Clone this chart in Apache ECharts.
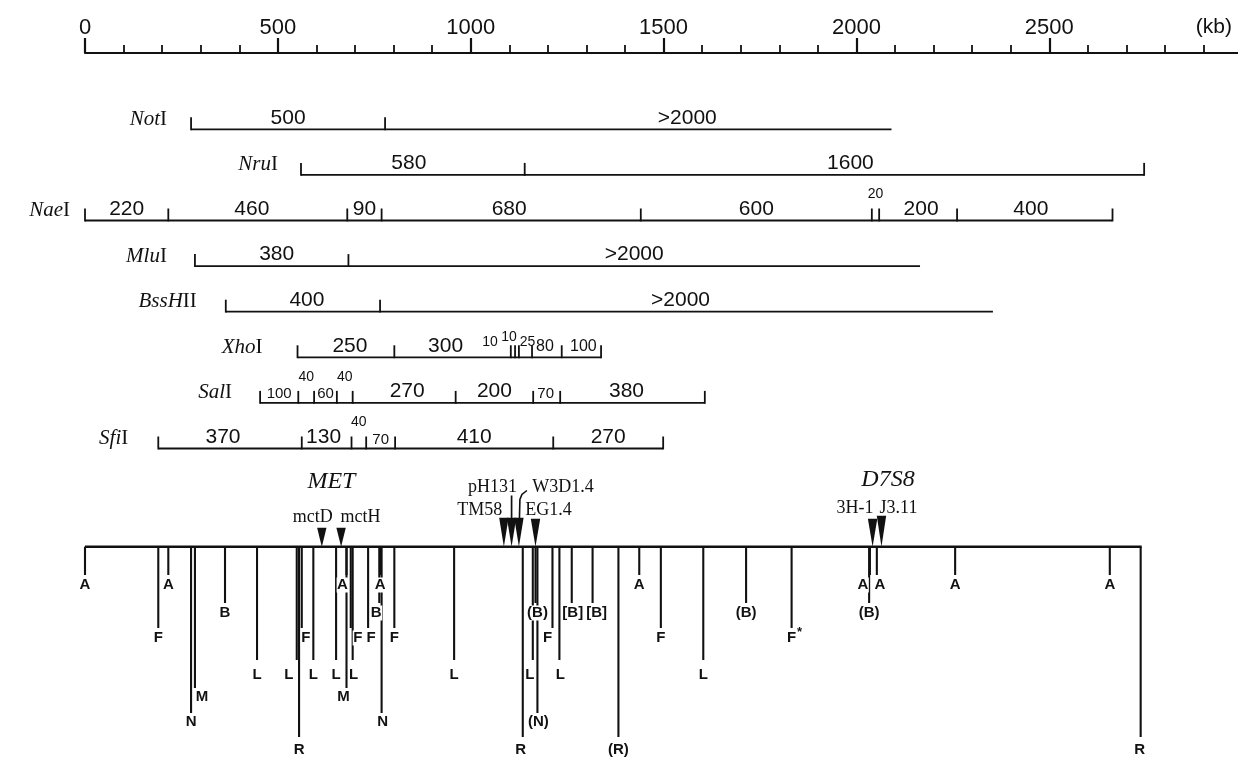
<!DOCTYPE html>
<html><head><meta charset="utf-8">
<script src="https://cdn.jsdelivr.net/npm/echarts@6/dist/echarts.min.js"></script>
<style>html,body{margin:0;padding:0;background:#fff}#c{width:1238px;height:757px}</style>
</head><body><div id="c"></div>
<script>
// ================= DATA (kb) =================
const kbTickLabels = [0, 500, 1000, 1500, 2000, 2500];
const axisUnit = '(kb)';
const axisUnitKb = 2927;

const enzymeNames  = ['Not', 'Nru', 'Nae', 'Mlu', 'BssH', 'Xho', 'Sal', 'Sfi'];
const enzymeSuffix = ['I', 'I', 'I', 'I', 'II', 'I', 'I', 'I'];
const enzymeOpenEnd = [true, false, false, true, true, false, false, false];

const notISites = [275, 778, 2091];
const notIFragments = ['500', '>2000'];
const nruISites = [560, 1140, 2746];
const nruIFragments = ['580', '1600'];
const naeISites = [0, 216, 680, 769, 1441, 2040, 2059, 2261, 2664];
const naeIFragments = ['220', '460', '90', '680', '600', '20', '200', '400'];
const mluISites = [285, 683, 2165];
const mluIFragments = ['380', '>2000'];
const bssHIISites = [365, 765, 2354];
const bssHIIFragments = ['400', '>2000'];
const xhoISites = [551, 802, 1104, 1115, 1125, 1159, 1236, 1338];
const xhoIFragments = ['250', '300', '10', '10', '25', '80', '100'];
const salISites = [454, 553, 594, 653, 694, 961, 1162, 1232, 1607];
const salIFragments = ['100', '40', '60', '40', '270', '200', '70', '380'];
const sfiISites = [190, 562, 691, 729, 804, 1214, 1499];
const sfiIFragments = ['370', '130', '40', '70', '410', '270'];

// composite map (sites below the line)
const mapLetters = ['A', 'B', 'F', 'L', 'M', 'N', 'R'];
const mapA = [0, 216, 678, 765, 1437, 2035, 2053, 2256, 2657];
const mapALabels = ['A', 'A', 'A', 'A', 'A', 'A', 'A', 'A', 'A'];
const mapB = [363, 763, 1168, 1262, 1316, 1714, 2033];
const mapBLabels = ['B', 'B', '(B)', '[B]', '[B]', '(B)', '(B)'];
const mapF = [190, 562, 689, 734, 802, 1212, 1493, 1832];
const mapFLabels = ['F', 'F', 'F', 'F', 'F', 'F', 'F', 'F*'];
const mapL = [446, 549, 592, 651, 694, 957, 1161, 1230, 1603];
const mapLLabels = ['L', 'L', 'L', 'L', 'L', 'L', 'L', 'L', 'L'];
const mapM = [285, 678];
const mapMLabels = ['M', 'M'];
const mapN = [275, 769, 1173];
const mapNLabels = ['N', 'N', '(N)'];
const mapR = [555, 1135, 1383, 2737];
const mapRLabels = ['R', 'R', '(R)', 'R'];

// probes / markers above the line
const markerNames = ['mctD', 'mctH', 'TM58', 'pH131', 'W3D1.4', 'EG1.4', '3H-1', 'J3.11'];
const markerKb    = [614, 664, 1086, 1106, 1125, 1168, 2042, 2065];
const locusNames   = ['MET', 'D7S8'];
const locusMembers = [[0, 1], [6, 7]];

// ================= LAYOUT / STYLE =================
const INK = '#111111';
const SANS = "'Liberation Sans', Arial, Helvetica, sans-serif";
const SERIF = "'Liberation Serif', 'Times New Roman', serif";
const L = {
  gridLeft: 85, gridTop: 53, pxPerKb: 0.3857, kbMax: 3000,
  rowY0: 129.3, rowStep: 45.6, tickH: 12, rowLine: 1.8,
  nameGap: [24, 23, 15, 28, 29, 35, 28, 30],
  mainY: 546.7,
  level: { A: [575, 585], B: [603, 613], F: [628, 638], L: [660, 675], M: [688, 697], N: [713, 722], R: [737, 750] },
  siteNudge: {
    A: [0, 0, -4, 0, 0, -7, 3, 0, 0],
    B: [0, -3, 2, 1, 4, 0, 0],
    F: [0, 4, 7, 3, 0, -5, 0, 0],
    L: [0, -8, 0, 0, 1, 0, -3, 1, 0],
    M: [7, -3],
    N: [0, 1, 1],
    R: [0, -2, 0, -1]
  },
  marker: [
    { dx: -9, ty: 517, h: 19 },
    { dx: 19.5, ty: 517, h: 19 },
    { dx: -24, ty: 510.5, h: 29 },
    { dx: -19, ty: 487.5, h: 29, stem: true },
    { dx: 44, ty: 487.5, h: 29, leader: true },
    { dx: 13, ty: 510.5, h: 28 },
    { dx: -17.7, ty: 508, h: 28 },
    { dx: 17, ty: 508, h: 31 }
  ],
  locus: [{ dx: 0, ty: 481.7 }, { dx: 11, ty: 480 }]
};
const FRAG_KIND = [
  ['n', 'n'],
  ['n', 'n'],
  ['n', 'n', 'n', 'n', 'n', 'u', 'n', 'n'],
  ['n', 'n'],
  ['n', 'n'],
  ['n', 'n', 'x1', 'x2', 'x1', 'm', 'm'],
  ['s', 'u', 's', 'u', 'n', 'n', 's', 'n'],
  ['n', 'n', 'u', 's', 'n', 'n']
];
const FRAG_NUDGE = [
  [0, 49],
  [-4, 16],
  [0, -6, 0, -2, 0, 0, 3, -4],
  [5, 0],
  [4, -6],
  [4, -7, -23, -8, 2, -2, 2],
  [0, 0, 0, 0, 3, 0, -1, -6],
  [-7, -3, 0, 0, 0, 0]
];
const KIND = {
  n: { size: 21, dy: -11.5 },
  m: { size: 16, dy: -11 },
  s: { size: 15, dy: -9 },
  u: { size: 14, dy: -26 },
  x1: { size: 14, dy: -15 },
  x2: { size: 14, dy: -20 }
};

const rowSites = [notISites, nruISites, naeISites, mluISites, bssHIISites, xhoISites, salISites, sfiISites];
const rowFrags = [notIFragments, nruIFragments, naeIFragments, mluIFragments, bssHIIFragments, xhoIFragments, salIFragments, sfiIFragments];
const mapKb = [mapA, mapB, mapF, mapL, mapM, mapN, mapR];
const mapText = [mapALabels, mapBLabels, mapFLabels, mapLLabels, mapMLabels, mapNLabels, mapRLabels];

// ================= RENDER =================
function seg(x1, y1, x2, y2, w) {
  return { type: 'line', shape: { x1, y1, x2, y2 }, style: { stroke: INK, lineWidth: w } };
}
function txt(x, y, text, o) {
  return {
    type: 'text', x, y, z2: 10,
    style: Object.assign({ text, fill: INK, fontFamily: SANS, fontSize: 20, align: 'center', verticalAlign: 'middle' }, o || {})
  };
}
function mk(api) { return (kb, px) => api.coord([kb, px - L.gridTop]); }

function renderRow(params, api) {
  const i = params.dataIndex;
  const P = mk(api);
  const y = L.rowY0 + i * L.rowStep;
  const sites = rowSites[i];
  const ch = [];
  const a = P(sites[0], y), b = P(sites[sites.length - 1], y);
  ch.push(seg(a[0], a[1], b[0], b[1], L.rowLine));
  sites.forEach((s, k) => {
    if (k === sites.length - 1 && enzymeOpenEnd[i]) return;
    const p = P(s, y);
    ch.push(seg(p[0], p[1] + 0.9, p[0], p[1] - L.tickH, L.rowLine));
  });
  rowFrags[i].forEach((f, k) => {
    const p0 = P(sites[k], y), p1 = P(sites[k + 1], y);
    const kd = KIND[FRAG_KIND[i][k]];
    ch.push(txt((p0[0] + p1[0]) / 2 + FRAG_NUDGE[i][k], p0[1] + kd.dy, f, { fontSize: kd.size }));
  });
  const s0 = P(sites[0], y);
  ch.push({
    type: 'text', x: s0[0] - L.nameGap[i], y: s0[1] - 10,
    style: {
      text: '{i|' + enzymeNames[i] + '}{r|' + enzymeSuffix[i] + '}',
      align: 'right', verticalAlign: 'middle',
      rich: {
        i: { fontFamily: SERIF, fontStyle: 'italic', fontSize: 21, fill: INK },
        r: { fontFamily: SERIF, fontSize: 21, fill: INK }
      }
    }
  });
  return { type: 'group', children: ch };
}

function renderMap(params, api) {
  const P = mk(api);
  const lines = [], labels = [];
  const a = P(0, L.mainY), b = P(mapR[mapR.length - 1], L.mainY);
  lines.push(seg(a[0], a[1], b[0] + 1, b[1], 2.4));
  mapLetters.forEach((letter, li) => {
    const lv = L.level[letter];
    mapKb[li].forEach((kb, k) => {
      const p = P(kb, L.mainY), q = P(kb, lv[0]);
      lines.push(seg(p[0], p[1], q[0], q[1], 2.1));
      let t = mapText[li][k];
      const x = q[0] + (L.siteNudge[letter][k] || 0);
      const yl = P(kb, lv[1])[1];
      let star = false;
      if (t.endsWith('*')) { star = true; t = t.slice(0, -1); }
      labels.push(txt(x, yl, t, { fontSize: 15, fontWeight: 'bold', backgroundColor: '#fff', padding: [0, 0.5] }));
      if (star) labels.push(txt(x + 8, yl - 6, '*', { fontSize: 13, fontWeight: 'bold' }));
    });
  });
  return { type: 'group', children: lines.concat(labels) };
}

function renderMarkers(params, api) {
  const P = mk(api);
  const ch = [];
  markerKb.forEach((kb, k) => {
    const st = L.marker[k];
    const tip = P(kb, L.mainY);
    const top = tip[1] - st.h;
    ch.push({ type: 'polygon', shape: { points: [[tip[0] - 4.7, top], [tip[0] + 4.7, top], [tip[0], tip[1]]] }, style: { fill: INK } });
    const ty = P(kb, st.ty)[1];
    ch.push(txt(tip[0] + st.dx, ty, markerNames[k], { fontFamily: SERIF, fontSize: 18 }));
    if (st.stem) ch.push(seg(tip[0], ty + 8, tip[0], top + 2, 1.7));
    if (st.leader) {
      ch.push({ type: 'polyline', shape: { points: [[tip[0] + 8, ty + 3], [tip[0] + 3, ty + 7], [tip[0] + 1, ty + 12], [tip[0] + 0.5, top + 2]] },
        style: { stroke: INK, lineWidth: 1.6, fill: null } });
    }
  });
  locusNames.forEach((n, g) => {
    const m = locusMembers[g];
    const xs = m.map(k => P(markerKb[k], 0)[0]);
    const x = xs.reduce((s, v) => s + v, 0) / xs.length + L.locus[g].dx;
    ch.push(txt(x, P(0, L.locus[g].ty)[1], n, { fontFamily: SERIF, fontStyle: 'italic', fontSize: 24 }));
  });
  const u = P(axisUnitKb, 27);
  ch.push(txt(u[0], u[1], axisUnit, { fontSize: 21 }));
  return { type: 'group', children: ch };
}

const chart = echarts.init(document.getElementById('c'), null, { renderer: 'canvas' });
chart.setOption({
  animation: false,
  backgroundColor: '#ffffff',
  grid: { left: L.gridLeft, top: L.gridTop, width: L.kbMax * L.pxPerKb, height: 757 - L.gridTop, containLabel: false, outerBoundsMode: 'none' },
  xAxis: {
    type: 'value', position: 'top', min: 0, max: L.kbMax, interval: 500,
    axisLine: { show: true, onZero: false, lineStyle: { color: INK, width: 2.2 } },
    axisTick: { show: true, length: 15, inside: false, lineStyle: { color: INK, width: 2.2 } },
    minorTick: { show: true, splitNumber: 5, length: 8, lineStyle: { color: INK, width: 1.8 } },
    splitLine: { show: false }, minorSplitLine: { show: false },
    axisLabel: { margin: 14, color: INK, fontSize: 22, fontFamily: SANS, showMaxLabel: false,
      formatter: v => kbTickLabels.includes(v) ? String(v) : '' }
  },
  yAxis: { type: 'value', min: 0, max: 757 - L.gridTop, inverse: true, show: false },
  series: [
    { type: 'custom', renderItem: renderRow, data: enzymeNames.map((n, i) => [0, i]), clip: false, silent: true },
    { type: 'custom', renderItem: renderMap, data: [[0, 0]], clip: false, silent: true },
    { type: 'custom', renderItem: renderMarkers, data: [[0, 0]], clip: false, silent: true }
  ]
});
</script>
</body></html>
